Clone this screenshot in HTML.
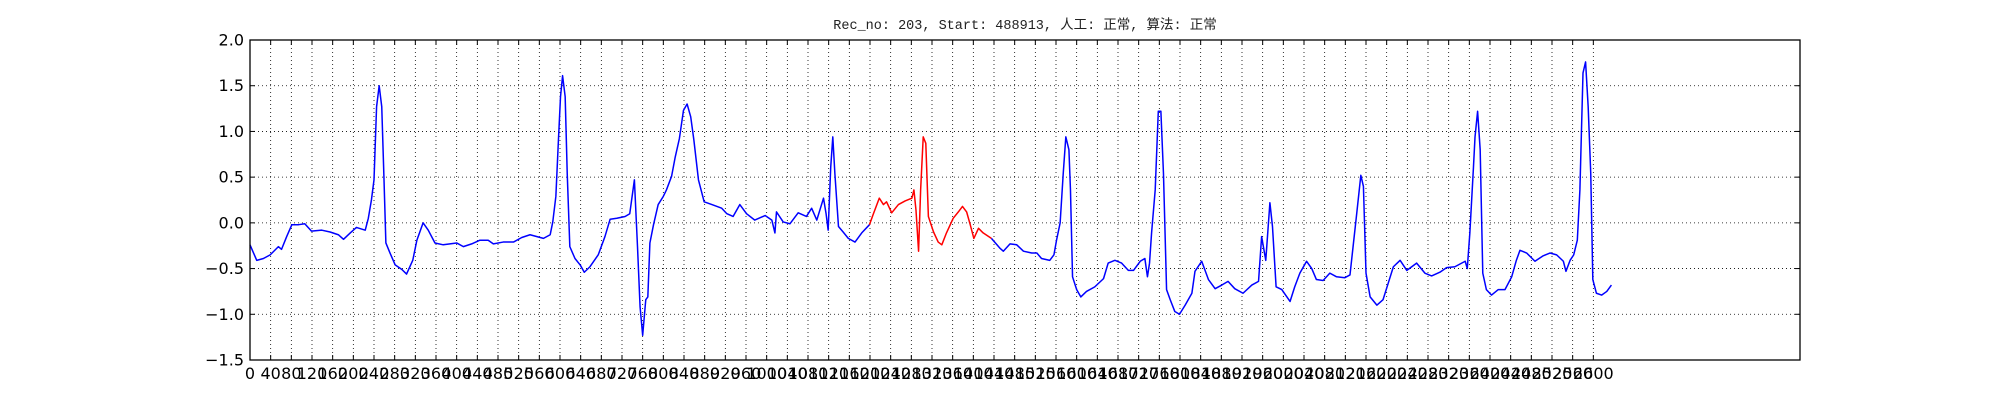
<!DOCTYPE html>
<html><head><meta charset="utf-8"><style>
html,body{margin:0;padding:0;background:#fff;}
svg{display:block;}
text{font-family:"DejaVu Sans","Liberation Sans",sans-serif;}
</style></head><body>
<svg id="chart" width="2000" height="400" xmlns="http://www.w3.org/2000/svg">
<rect x="0" y="0" width="2000" height="400" fill="#fff"/>
<text x="1025" y="29" text-anchor="middle" font-size="13.5" style="font-family:'Liberation Mono','Noto Sans CJK SC',monospace" fill="#222">Rec_no: 203, Start: 488913, 人工: 正常, 算法: 正常</text>
<g id="grid"></g>
<g id="ticks"></g>
<g id="series"></g>
<rect x="250" y="40" width="1550" height="320" fill="none" stroke="#000" stroke-width="1.3"/>
</svg>
<script>
const yTicks = [-1.5,-1.0,-0.5,0.0,0.5,1.0,1.5,2.0];
const yTickLabels = ["\u22121.5","\u22121.0","\u22120.5","0.0","0.5","1.0","1.5","2.0"];
const xTickStep = 40;
const xTickMax = 2600;
const redStart = 1199;
const redEnd = 1435;
const sampleIdx = [0,13,26,39,55,61,71,81,94,106,119,139,155,171,181,194,206,223,229,235,240,245,250,255,259,263,271,281,294,303,315,323,335,345,358,374,400,413,429,445,461,471,490,510,526,542,568,581,586,592,597,601,605,610,614,619,629,639,647,658,674,687,697,710,726,735,744,750,755,760,766,770,774,781,790,800,806,816,823,831,839,846,853,859,868,879,894,913,923,935,948,961,977,997,1010,1016,1019,1032,1045,1061,1077,1087,1097,1110,1115,1119,1124,1128,1132,1139,1148,1158,1171,1184,1199,1206,1218,1226,1232,1242,1255,1268,1281,1285,1289,1294,1298,1303,1308,1313,1323,1332,1339,1348,1361,1371,1379,1387,1394,1401,1410,1419,1435,1452,1458,1471,1484,1497,1513,1523,1532,1548,1556,1561,1568,1574,1579,1585,1588,1592,1600,1608,1619,1635,1652,1661,1674,1687,1700,1710,1723,1732,1737,1741,1745,1752,1758,1763,1768,1774,1781,1790,1799,1810,1823,1829,1842,1855,1868,1881,1893,1906,1922,1939,1952,1958,1966,1974,1979,1986,1997,2013,2022,2032,2045,2055,2064,2077,2090,2103,2119,2129,2135,2142,2150,2155,2160,2168,2181,2193,2203,2213,2226,2239,2258,2274,2287,2303,2316,2332,2352,2356,2361,2368,2371,2376,2381,2386,2393,2403,2416,2429,2442,2451,2458,2471,2487,2503,2516,2529,2542,2547,2555,2562,2569,2574,2580,2585,2590,2595,2599,2606,2616,2626,2635];
const sampleVal = [-0.24,-0.41,-0.39,-0.35,-0.26,-0.29,-0.15,-0.02,-0.02,-0.01,-0.09,-0.08,-0.10,-0.13,-0.18,-0.11,-0.05,-0.08,0.05,0.25,0.47,1.27,1.50,1.27,0.54,-0.22,-0.33,-0.46,-0.51,-0.56,-0.41,-0.19,0.00,-0.08,-0.22,-0.24,-0.22,-0.26,-0.23,-0.19,-0.19,-0.23,-0.21,-0.21,-0.16,-0.13,-0.17,-0.13,0.01,0.29,0.91,1.38,1.61,1.38,0.54,-0.26,-0.39,-0.46,-0.54,-0.48,-0.35,-0.15,0.04,0.05,0.07,0.10,0.47,-0.26,-0.92,-1.23,-0.84,-0.81,-0.22,-0.02,0.20,0.29,0.36,0.51,0.72,0.92,1.23,1.30,1.16,0.91,0.47,0.23,0.20,0.16,0.10,0.07,0.20,0.10,0.03,0.08,0.03,-0.11,0.12,0.01,-0.01,0.11,0.07,0.16,0.03,0.27,0.10,-0.08,0.61,0.94,0.54,-0.04,-0.10,-0.17,-0.21,-0.11,-0.02,0.09,0.27,0.20,0.23,0.11,0.20,0.24,0.27,0.36,0.14,-0.31,0.36,0.94,0.87,0.07,-0.10,-0.21,-0.24,-0.11,0.05,0.12,0.18,0.12,-0.02,-0.17,-0.06,-0.11,-0.17,-0.28,-0.31,-0.23,-0.24,-0.31,-0.33,-0.33,-0.39,-0.41,-0.35,-0.19,0.00,0.54,0.94,0.80,0.36,-0.59,-0.73,-0.81,-0.75,-0.70,-0.61,-0.44,-0.41,-0.44,-0.52,-0.52,-0.42,-0.39,-0.59,-0.44,-0.11,0.36,1.22,1.22,0.54,-0.73,-0.84,-0.97,-1.00,-0.90,-0.77,-0.53,-0.42,-0.62,-0.72,-0.68,-0.64,-0.72,-0.77,-0.68,-0.64,-0.15,-0.41,0.22,-0.04,-0.70,-0.73,-0.86,-0.70,-0.55,-0.42,-0.50,-0.62,-0.63,-0.55,-0.59,-0.60,-0.57,-0.26,0.10,0.52,0.40,-0.55,-0.81,-0.90,-0.84,-0.66,-0.48,-0.41,-0.52,-0.44,-0.55,-0.58,-0.54,-0.49,-0.48,-0.42,-0.50,-0.11,0.61,0.94,1.22,0.80,-0.55,-0.73,-0.79,-0.73,-0.73,-0.59,-0.41,-0.30,-0.33,-0.42,-0.36,-0.33,-0.35,-0.42,-0.53,-0.41,-0.35,-0.19,0.36,1.64,1.76,1.27,0.54,-0.62,-0.77,-0.79,-0.75,-0.68];

const NS = "http://www.w3.org/2000/svg";
const L=250,R=1800,T=40,B=360,XMAX=3000,YMIN=-1.5,YMAX=2.0;
function xs(s){return L+(s/XMAX)*(R-L);}
function ys(v){return B-(v-YMIN)/(YMAX-YMIN)*(B-T);}
const grid=document.getElementById('grid'), ticks=document.getElementById('ticks'), series=document.getElementById('series');
function mk(tag,attrs,parent){const e=document.createElementNS(NS,tag);for(const k in attrs)e.setAttribute(k,attrs[k]);parent.appendChild(e);return e;}

yTicks.forEach((v,i)=>{
  const y=ys(v);
  if(i>0&&i<yTicks.length-1){
    const g=mk('line',{x1:L,x2:R,y1:y,y2:y,stroke:'#000','stroke-width':0.8,'stroke-dasharray':'1,3'},grid);
    
    
  }
  const t1=mk('line',{x1:L,x2:L+5,y1:y,y2:y,stroke:'#000','stroke-width':1},ticks);
  
  
  const t2=mk('line',{x1:R-5,x2:R,y1:y,y2:y,stroke:'#000','stroke-width':1},ticks);
  
  
  const lab=mk('text',{x:L-6,y:y+5.5,'text-anchor':'end','font-size':16,fill:'#000'},ticks);
  lab.textContent=yTickLabels[i];
  
  
});
for(let s=0;s<=xTickMax;s+=xTickStep){
  const x=xs(s);
  if(s>0){
    const g=mk('line',{x1:x,x2:x,y1:T,y2:B,stroke:'#000','stroke-width':0.8,'stroke-dasharray':'1,3'},grid);
    
    
  }
  const t1=mk('line',{x1:x,x2:x,y1:B-5,y2:B,stroke:'#000','stroke-width':1},ticks);
  
  
  const t2=mk('line',{x1:x,x2:x,y1:T,y2:T+5,stroke:'#000','stroke-width':1},ticks);
  
  
  const lab=mk('text',{x:x,y:B+19,'text-anchor':'middle','font-size':16,fill:'#000'},ticks);
  lab.textContent=String(s);
  
  
}
let blue=[],red=[];
sampleIdx.forEach((s,i)=>{
  const p=xs(s).toFixed(2)+','+ys(sampleVal[i]).toFixed(2);
  if(s<=redStart||s>=redEnd)blue.push(p);
  if(s>=redStart&&s<=redEnd)red.push(p);
});
// split blue into two parts around red
const b1=[],b2=[];
sampleIdx.forEach((s,i)=>{const p=xs(s).toFixed(2)+','+ys(sampleVal[i]).toFixed(2);if(s<=redStart)b1.push(p);if(s>=redEnd)b2.push(p);});
const pl1=mk('polyline',{points:b1.join(' '),fill:'none',stroke:'#0000ff','stroke-width':1.5,'stroke-linejoin':'round'},series);


const pl2=mk('polyline',{points:b2.join(' '),fill:'none',stroke:'#0000ff','stroke-width':1.5,'stroke-linejoin':'round'},series);


const pl3=mk('polyline',{points:red.join(' '),fill:'none',stroke:'#ff0000','stroke-width':1.5,'stroke-linejoin':'round'},series);


</script>
</body></html>
